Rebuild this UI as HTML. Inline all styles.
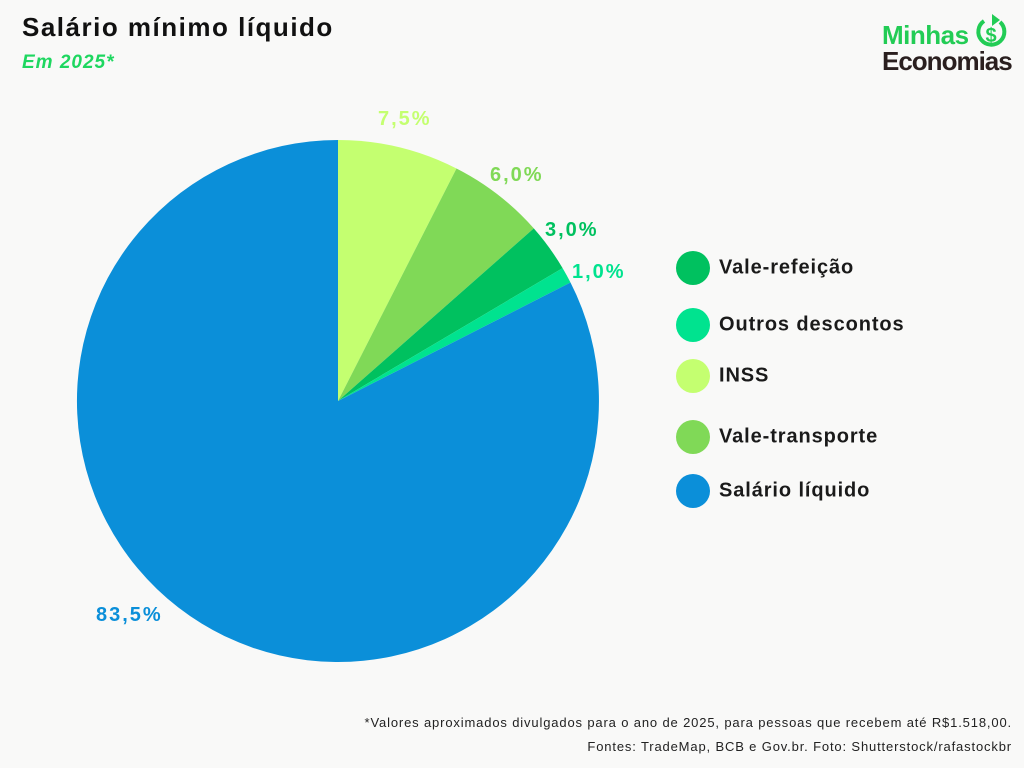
<!DOCTYPE html>
<html><head><meta charset="utf-8"><style>
body{margin:0;width:1024px;height:768px;overflow:hidden;background:#f9f9f8;font-family:"Liberation Sans",sans-serif;position:relative}
.t{position:absolute;font-weight:bold}
.leg{position:absolute;left:676px;font-weight:bold;font-size:20px;color:#1a1a1a;letter-spacing:0.9px}
.leg span{display:inline-block;width:34px;height:34px;border-radius:50%;vertical-align:middle;margin-right:9px}
</style></head><body>
<div class="t" style="left:22px;top:12px;font-size:26px;color:#111;letter-spacing:1.5px">Salário mínimo líquido</div>
<div class="t" style="left:22px;top:52px;font-size:19px;color:#1ed760;font-style:italic;letter-spacing:1px">Em 2025*</div>
<div class="t" style="left:882px;top:20px;font-size:26px;color:#22cc55;letter-spacing:-0.5px">Minhas</div>
<div class="t" style="left:882px;top:46px;font-size:26px;color:#2a1f1f;letter-spacing:-1px">Economias</div>
<svg style="position:absolute;left:970px;top:10px" width="44" height="44" viewBox="0 0 44 44"><path d="M30 12 A13 13 0 1 1 14 11" fill="none" stroke="#22cc55" stroke-width="4"/><path d="M22 4 L30 10 L22 16 Z" fill="#22cc55"/><text x="21" y="32" font-size="20" font-weight="bold" fill="#22cc55" text-anchor="middle" font-family="Liberation Sans">$</text></svg>
<svg style="position:absolute;left:0;top:0" width="1024" height="768">
<path d="M338 401 L338 140 A261 261 0 0 1 456.5 168.5 Z" fill="#c4ff70"/>
<path d="M338 401 L456.5 168.5 A261 261 0 0 1 533.8 228.4 Z" fill="#80d957"/>
<path d="M338 401 L533.8 228.4 A261 261 0 0 1 562.6 268.1 Z" fill="#00c15f"/>
<path d="M338 401 L562.6 268.1 A261 261 0 0 1 570.5 282.5 Z" fill="#00e38f"/>
<path d="M338 401 L570.5 282.5 A261 261 0 1 1 338 140 Z" fill="#0b8fd9"/>
<g font-family="Liberation Sans" font-weight="bold" font-size="20" letter-spacing="2">
<text x="378" y="125" fill="#c4ff70">7,5%</text>
<text x="490" y="181" fill="#80d957">6,0%</text>
<text x="545" y="236" fill="#00c15f">3,0%</text>
<text x="572" y="278" fill="#00e38f">1,0%</text>
<text x="96" y="621" fill="#0b8fd9">83,5%</text>
</g></svg>
<div class="leg" style="top:251px"><span style="background:#00c15f"></span>Vale-refeição</div>
<div class="leg" style="top:308px"><span style="background:#00e38f"></span>Outros descontos</div>
<div class="leg" style="top:359px"><span style="background:#c4ff70"></span>INSS</div>
<div class="leg" style="top:420px"><span style="background:#80d957"></span>Vale-transporte</div>
<div class="leg" style="top:474px"><span style="background:#0b8fd9"></span>Salário líquido</div>
<div style="position:absolute;right:12px;top:711px;font-size:13px;color:#222;text-align:right;line-height:24px;letter-spacing:0.85px">*Valores aproximados divulgados para o ano de 2025, para pessoas que recebem até R$1.518,00.<br>Fontes: TradeMap, BCB e Gov.br. Foto: Shutterstock/rafastockbr</div>
</body></html>
